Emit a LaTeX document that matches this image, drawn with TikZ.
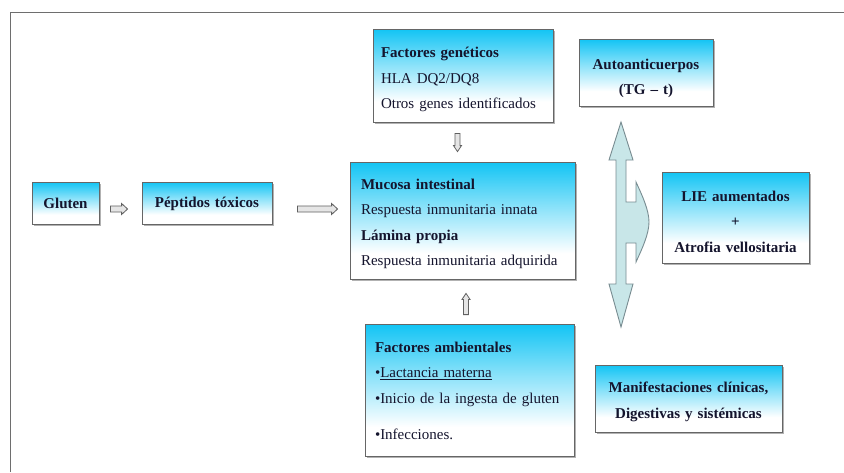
\documentclass[tikz,border=0pt]{standalone}
\usepackage{fontspec}
\setmainfont[WordSpace=0.7]{Liberation Serif}
\usetikzlibrary{calc,shadows}
\hyphenpenalty=10000
\exhyphenpenalty=10000
\definecolor{boxcyan}{RGB}{18,196,244}
\definecolor{txt}{RGB}{20,20,45}
\definecolor{arrfill}{RGB}{200,230,232}
\definecolor{arredge}{RGB}{120,140,145}
\definecolor{frame}{RGB}{110,110,110}
\newcommand\mytopstrut[1]{\rule{0pt}{#1}}
\pgfdeclareverticalshading{boxshade}{100bp}{color(0bp)=(white); color(25bp)=(white); color(36bp)=(white); color(56bp)=(boxcyan!50); color(75bp)=(boxcyan); color(100bp)=(boxcyan)}
\newcommand\hollowarr[5]{%
  \coordinate (ha-h) at ($(#2)!#5!(#1)$);
  \draw[smallarr] ($(#1)!#3!90:(#2)$) -- ($(ha-h)!#3!90:(#2)$) -- ($(ha-h)!#4!90:(#2)$) -- (#2)
    -- ($(ha-h)!#4!-90:(#2)$) -- ($(ha-h)!#3!-90:(#2)$) -- ($(#1)!#3!-90:(#2)$) -- cycle;}
\begin{document}
\begin{tikzpicture}[x=1pt,y=-1pt,
  box/.style={draw=black!60, line width=0.8pt, shading=boxshade,
    drop shadow={shadow xshift=1.5pt, shadow yshift=-1.5pt, opacity=0.3, fill=black},
    text=txt, inner sep=0pt},
  cbox/.style={box, align=center, font=\fontsize{15}{25.5}\selectfont\bfseries},
  lbox/.style={box, align=left, inner xsep=8pt, font=\fontsize{15}{25.5}\selectfont},
  smallarr/.style={draw=gray!75!black, fill=gray!20, line width=0.8pt, line join=miter},
  bigarr/.style={draw=arredge, fill=arrfill, line width=0.9pt, line join=miter}]
\useasboundingbox (0,0) rectangle (844,472);
\fill[white] (0,0) rectangle (844,472);
\draw[frame, line width=0.9pt] (10,472) -- (10,12) -- (844,12);

\node[cbox, text width=67pt, minimum height=42pt] (gluten) at (65.5,203) {\mytopstrut{12pt}Gluten};
\node[cbox, text width=130pt, minimum height=42pt] (pept) at (207,203) {\mytopstrut{12pt}Péptidos tóxicos};
\node[lbox, text width=164pt, minimum height=93pt] (gen) at (463,75.5)
  {\mytopstrut{19pt}\textbf{Factores genéticos}\\HLA DQ2/DQ8\\Otros genes identificados};
\node[cbox, text width=134pt, minimum height=67pt] (auto) at (646,72.5)
  {\mytopstrut{22pt}Autoanticuerpos\\(TG – t)};
\node[lbox, inner xsep=11pt, text width=203pt, minimum height=117pt] (muc) at (462.5,220.5)
  {\mytopstrut{17.5pt}\textbf{Mucosa intestinal}\\Respuesta inmunitaria innata\\\textbf{Lámina propia}\\Respuesta inmunitaria adquirida};
\node[cbox, text width=147pt, minimum height=91pt] (lie) at (735.5,217.5)
  {\mytopstrut{18.5pt}LIE aumentados\\+\\Atrofia vellositaria};
\node[lbox, inner xsep=10pt, text width=189pt, minimum height=132pt] (amb) at (469.5,390)
  {\mytopstrut{12pt}\textbf{Factores ambientales}\\\textbullet\underline{Lactancia materna}\\\textbullet Inicio de la ingesta de gluten\\[11pt]\textbullet Infecciones.};
\node[cbox, text width=187pt, minimum height=67pt] (man) at (688.5,398.5)
  {\mytopstrut{17pt}Manifestaciones clínicas,\\Digestivas y sistémicas};

% small hollow arrows
\coordinate (a1s) at ($(gluten.east)+(11,6)$);
\coordinate (a1e) at ($(pept.west)+(-14,6)$);
\hollowarr{a1s}{a1e}{3pt}{5.5pt}{6pt}
\coordinate (a2s) at ($(pept.east)+(25,6)$);
\coordinate (a2e) at ($(muc.west|-pept.east)+(-12,6)$);
\hollowarr{a2s}{a2e}{3pt}{5.5pt}{6pt}
\coordinate (a3s) at ($(gen.south)+(-5.5,11)$);
\coordinate (a3e) at ($(muc.north)+(-5,-10)$);
\hollowarr{a3s}{a3e}{2.5pt}{4pt}{6pt}
\coordinate (a4s) at ($(amb.north)+(-3.5,-9)$);
\coordinate (a4e) at ($(muc.south)+(3.5,14)$);
\hollowarr{a4s}{a4e}{2.5pt}{4pt}{6pt}

% big three-way arrow
\draw[bigarr] (621,122) -- (633,160) -- (626,160) -- (626,202) -- (636,202) -- (636,182)
  .. controls (642,195) and (649,210) .. (649,222)
  .. controls (649,234) and (642,249) .. (636,262)
  -- (636,243) -- (626,243) -- (626,284) -- (633,284) -- (621,327) -- (609,284)
  -- (616,284) -- (616,160) -- (609,160) -- cycle;
\end{tikzpicture}
\end{document}
